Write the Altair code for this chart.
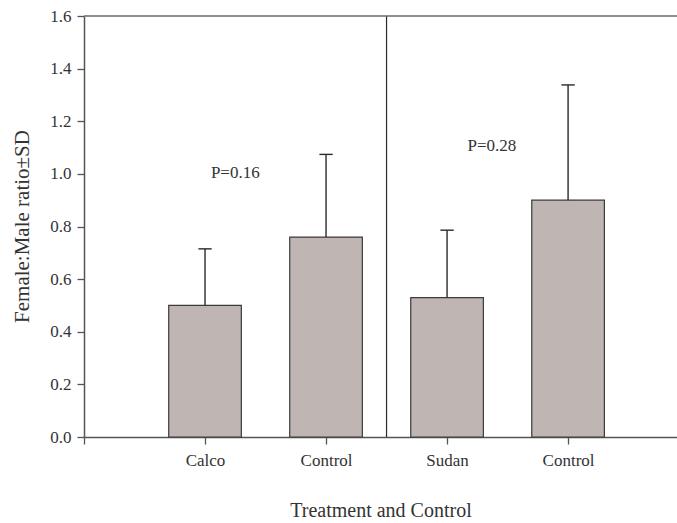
import altair as alt
import pandas as pd

# Data
positions = [1, 2, 3, 4]
labels = ["Calco", "Control", "Sudan", "Control"]
means = [0.50, 0.76, 0.53, 0.90]
sds = [0.215, 0.314, 0.256, 0.438]

ann_text = ["P=0.16", "P=0.28"]
ann_x = [1.25, 3.37]
ann_y = [1.005, 1.105]

half_bar = 0.3
half_cap = 0.055
x_max = 4.9
y_max = 1.6
sep_x = 2.5

df = pd.DataFrame({"pos": positions, "label": labels, "mean": means, "sd": sds})
ann = pd.DataFrame({"text": ann_text, "x": ann_x, "y": ann_y})

FONT = "Times New Roman, Liberation Serif, serif"
TXT = "#333333"

label_expr = "datum.value == 1 ? 'Calco' : datum.value == 2 ? 'Control' : datum.value == 3 ? 'Sudan' : datum.value == 4 ? 'Control' : ''"

xscale = alt.Scale(domain=[0, x_max], nice=False, zero=False)
yscale = alt.Scale(domain=[0, y_max], nice=False)

base = alt.Chart(df).transform_calculate(
    x1=f"datum.pos - {half_bar}",
    x2=f"datum.pos + {half_bar}",
    c1=f"datum.pos - {half_cap}",
    c2=f"datum.pos + {half_cap}",
    upper="datum.mean + datum.sd",
)

bars = base.mark_bar(fill="#bfb6b3", stroke="#3a3a3a", strokeWidth=1.2).encode(
    x=alt.X(
        "x1:Q",
        scale=xscale,
        axis=alt.Axis(
            values=[0, 1, 2, 3, 4],
            labelExpr=label_expr,
            title="Treatment and Control",
            grid=False,
            tickSize=7,
            labelPadding=8,
            titlePadding=32,
            labelFontSize=17,
            titleFontSize=20,
            labelFont=FONT,
            titleFont=FONT,
            labelColor=TXT,
            titleColor=TXT,
            titleFontWeight="normal",
            domainColor="#555555",
            tickColor="#555555",
            domainWidth=1.5,
            tickWidth=1.3,
        ),
    ),
    x2="x2:Q",
    y=alt.Y(
        "mean:Q",
        scale=yscale,
        axis=alt.Axis(
            values=[0, 0.2, 0.4, 0.6, 0.8, 1.0, 1.2, 1.4, 1.6],
            format=".1f",
            title="Female:Male ratio±SD",
            grid=False,
            tickSize=7,
            labelPadding=6,
            labelFontSize=17,
            titleFontSize=21,
            labelFont=FONT,
            titleFont=FONT,
            labelColor=TXT,
            titleColor=TXT,
            titleFontWeight="normal",
            titleBaseline="middle",
            titleX=-62,
            titleY=210,
            domainColor="#555555",
            tickColor="#555555",
            domainWidth=1.5,
            tickWidth=1.3,
        ),
    ),
    y2=alt.value(421),
)

err = base.mark_rule(color="#2a2a2a", strokeWidth=1.4).encode(
    x="pos:Q", y="mean:Q", y2="upper:Q"
)
caps = base.mark_rule(color="#2a2a2a", strokeWidth=1.4).encode(
    x="c1:Q", x2="c2:Q", y="upper:Q"
)

frame = pd.DataFrame({"sx": [sep_x], "top": [y_max], "xmax": [x_max]})
sep = alt.Chart(frame).mark_rule(color="#2a2a2a", strokeWidth=1.2).encode(
    x="sx:Q", y=alt.value(0), y2=alt.value(421)
)
top = alt.Chart(frame).mark_rule(color="#6a6a6a", strokeWidth=1.5).encode(
    y="top:Q", x=alt.value(0), x2=alt.value(593)
)

txt = alt.Chart(ann).mark_text(
    font=FONT, fontSize=17, color=TXT, baseline="middle", align="center"
).encode(x="x:Q", y="y:Q", text="text:N")

chart = (
    alt.layer(bars, err, caps, sep, top, txt)
    .properties(
        width=593,
        height=421,
        autosize=alt.AutoSizeParams(type="none"),
        padding={"left": 84, "top": 16, "right": 0, "bottom": 86},
    )
    .configure(background="white", font=FONT)
    .configure_view(stroke=None)
    .configure_axis(labelFont=FONT, titleFont=FONT)
    .configure_text(font=FONT)
)

chart.save("out.html", embed_options={"renderer": "svg", "actions": False})
